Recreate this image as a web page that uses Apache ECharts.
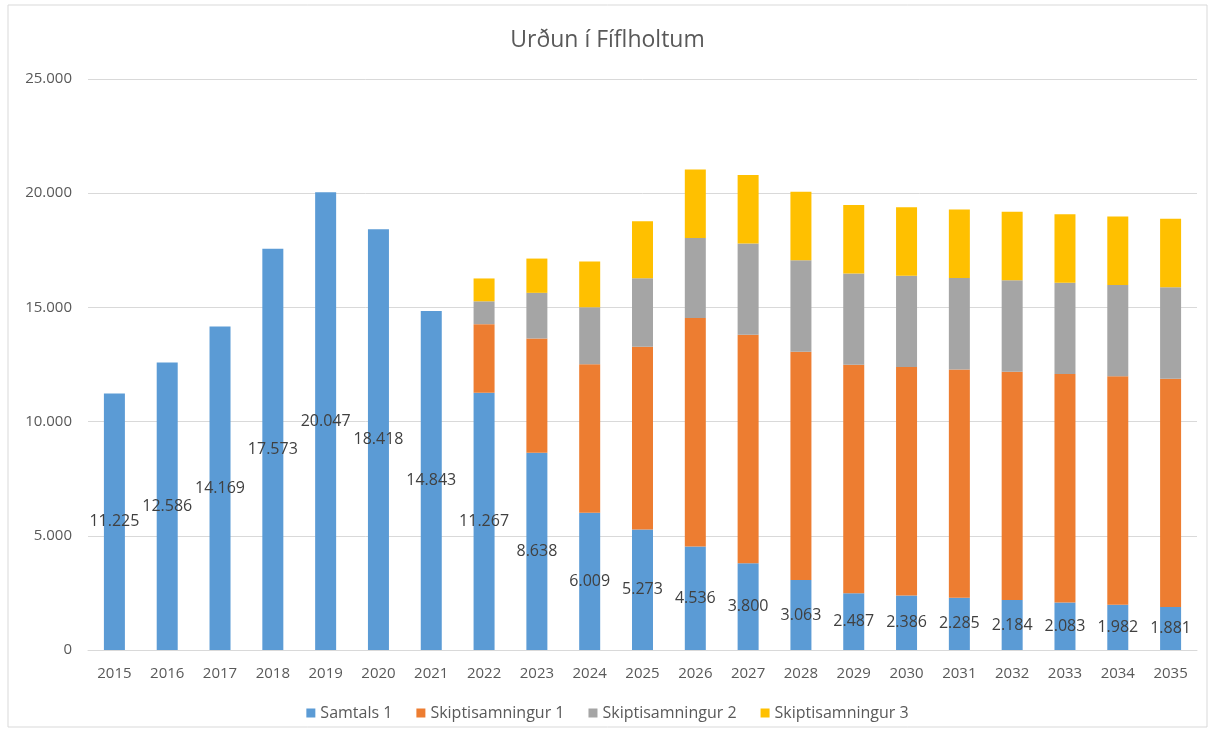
<!DOCTYPE html>
<html>
<head>
<meta charset="utf-8">
<script src="https://cdn.jsdelivr.net/npm/echarts@6/dist/echarts.min.js"></script>
<style>
  html, body { margin: 0; padding: 0; background: #fff; }
  #chart { width: 1215px; height: 733px; }
</style>
</head>
<body>
<div id="chart"></div>
<script>
var years = ['2015', '2016', '2017', '2018', '2019', '2020', '2021', '2022', '2023', '2024', '2025',
    '2026', '2027', '2028', '2029', '2030', '2031', '2032', '2033', '2034', '2035'];
var samtals1 = [11225, 12586, 14169, 17573, 20047, 18418, 14843, 11267, 8638, 6009, 5273,
    4536, 3800, 3063, 2487, 2386, 2285, 2184, 2083, 1982, 1881];
var skipti1 = [null, null, null, null, null, null, null, 3000, 5000, 6500, 8000,
    10000, 10000, 10000, 10000, 10000, 10000, 10000, 10000, 10000, 10000];
var skipti2 = [null, null, null, null, null, null, null, 1000, 2000, 2500, 3000,
    3500, 4000, 4000, 4000, 4000, 4000, 4000, 4000, 4000, 4000];
var skipti3 = [null, null, null, null, null, null, null, 1000, 1500, 2000, 2500,
    3000, 3000, 3000, 3000, 3000, 3000, 3000, 3000, 3000, 3000];

var font = 'Open Sans';
var textColor = '#595959';

function fmt(v) { // þúsundaskil með punkti
    return String(v).replace(/\B(?=(\d{3})+(?!\d))/g, '.');
}

var chart = echarts.init(document.getElementById('chart'));

function barSeries(name, data, color, label) {
    return {
        name: name,
        type: 'bar',
        stack: 'total',
        barWidth: 21,
        itemStyle: {color: color},
        label: label ? {
            show: true,
            position: 'inside',
            color: '#404040',
            fontFamily: font,
            fontSize: 16,
            formatter: function (p) { return fmt(p.value); }
        } : {show: false},
        emphasis: {disabled: true},
        data: data
    };
}

var option = {
    animation: false,
    backgroundColor: '#fff',
    title: {
        text: 'Urðun í Fíflholtum',
        left: 'center',
        top: 24,
        textStyle: {color: textColor, fontFamily: font, fontSize: 23, fontWeight: 'normal'}
    },
    legend: {
        bottom: 7,
        left: 'center',
        itemWidth: 9,
        itemHeight: 9,
        itemGap: 24,
        icon: 'rect',
        textStyle: {color: textColor, fontFamily: font, fontSize: 16}
    },
    grid: {left: 88, right: 18, top: 79, bottom: 83},
    xAxis: {
        type: 'category',
        data: years,
        axisTick: {show: false},
        axisLine: {lineStyle: {color: '#d9d9d9'}},
        axisLabel: {color: textColor, fontFamily: font, fontSize: 15, margin: 16}
    },
    yAxis: {
        type: 'value',
        min: 0,
        max: 25000,
        interval: 5000,
        axisLine: {show: false},
        axisTick: {show: false},
        splitLine: {lineStyle: {color: '#d9d9d9'}},
        axisLabel: {
            color: textColor, fontFamily: font, fontSize: 15, margin: 16,
            formatter: function (v) { return fmt(v); }
        }
    },
    graphic: [{
        type: 'rect',
        shape: {x: 8, y: 5, width: 1199, height: 722},
        style: {fill: 'none', stroke: '#d9d9d9', lineWidth: 1},
        silent: true
    }],
    series: [
        barSeries('Samtals 1', samtals1, '#5b9bd5', true),
        barSeries('Skiptisamningur 1', skipti1, '#ed7d31', false),
        barSeries('Skiptisamningur 2', skipti2, '#a5a5a5', false),
        barSeries('Skiptisamningur 3', skipti3, '#ffc000', false)
    ]
};

chart.setOption(option);
</script>
</body>
</html>
